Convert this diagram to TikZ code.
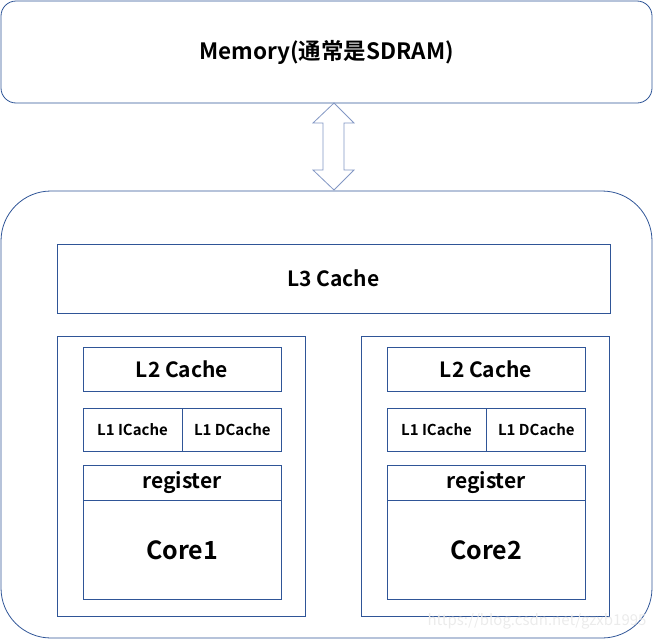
\documentclass[tikz,border=0pt]{standalone}
\usepackage{fontspec}
\setmainfont{Noto Sans CJK SC}[BoldFont={* Bold}]
\usetikzlibrary{positioning}
\definecolor{edgeblue}{HTML}{2F5597}
\definecolor{arrowblue}{HTML}{8297C4}
\tikzset{
  box/.style={draw=edgeblue,thick,fill=white,inner sep=0pt,font=\bfseries\fontsize{21}{24}\selectfont},
  smallbox/.style={box,font=\bfseries\fontsize{15}{18}\selectfont},
  bigtext/.style={font=\bfseries\fontsize{25}{29}\selectfont}
}
\begin{document}
\begin{tikzpicture}[x=1pt,y=-1pt]
\useasboundingbox (0,0) rectangle (653,640);
% memory
\node[box,rounded corners=15pt,minimum width=651pt,minimum height=102pt] (mem) at (326.5,52) {};
\node[box,draw=none,fill=none,font=\bfseries\fontsize{22.5}{26}\selectfont] at (mem.center) {Memory(通常是SDRAM)};
% chip
\draw[edgeblue,thick,rounded corners=50pt] (1,191) rectangle (652,638);
\node[box,minimum width=553pt,minimum height=69pt] (l3) at (333.5,278.5) {L3 Cache};
% hollow double arrow
\draw[arrowblue,thick,fill=white] (334,103) -- (354,123) -- (344,123) -- (344,170) -- (354,170)
  -- (334,190) -- (313,170) -- (323,170) -- (323,123) -- (313,123) -- cycle;
% cores
\foreach \n/\dx in {1/0,2/304}{
  \node[box,minimum width=248pt,minimum height=280pt] (core\n) at (181+\dx,476) {};
  \node[box,minimum width=198pt,minimum height=44pt] (ltwo\n) at (182+\dx,369) {L2 Cache};
  \node[smallbox,minimum width=99pt,minimum height=43pt] (icache\n) at (132.5+\dx,429.5) {L1 ICache};
  \node[smallbox,minimum width=99pt,minimum height=43pt,right=0pt of icache\n] (dcache\n) {L1 DCache};
  \node[box,minimum width=198pt,minimum height=35pt] (reg\n) at (182+\dx,482.5) {register};
  \node[box,bigtext,minimum width=198pt,minimum height=99pt,below=0pt of reg\n] (cpu\n) {Core\n};
}
\node[font=\fontsize{15}{18}\selectfont,text=black!8] at (537,621) {https://blog.csdn.net/gzxb1995};
\end{tikzpicture}
\end{document}
